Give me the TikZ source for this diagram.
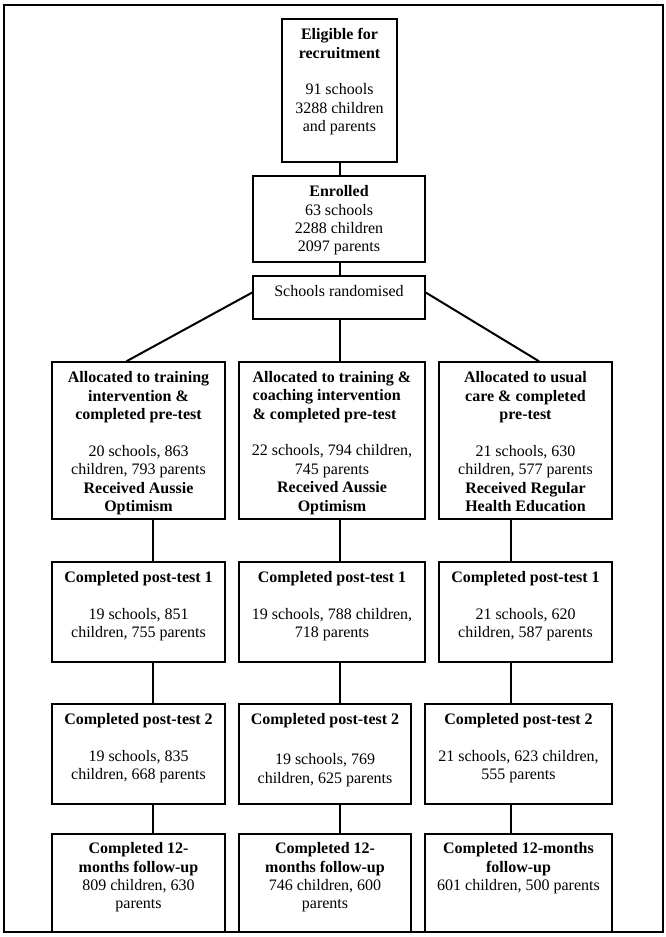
\documentclass[tikz,border=0pt]{standalone}
\usepackage{fontspec}
\setmainfont{Liberation Serif}
\usetikzlibrary{fit,calc}
\newlength\hdw
\begin{document}
\begin{tikzpicture}[x=0.75pt,y=-0.75pt,
  box/.style={draw, line width=1.1pt, inner sep=0pt},
  tbox/.style={box, line width=1.6pt},
  txt/.style={align=center, inner sep=0pt, anchor=north, font=\fontsize{12pt}{13.8pt}\selectfont},
  link/.style={line width=1.5pt},
  thinlink/.style={line width=0.8pt},
  outerframe/.style={draw, line width=1.8pt, inner sep=0pt}]
\useasboundingbox (0,0) rectangle (666,937);
\node[outerframe, fit={(4,5) (663,932)}] (outer) {};
% column positions
\coordinate (colL) at (153,0);
\coordinate (colM) at (340,0);
\coordinate (colR) at (511,0);
% boxes
\node[box, fit={(282,19) (397,162)}] (elig) {};
\node[box, fit={(253,176) (425,262)}] (enr) {};
\node[box, fit={(253,276) (425,319)}] (rand) {};
\node[box, fit={(52,362) (225,519)}] (A1) {};
\node[tbox, fit={(239,362) (425,519)}] (A2) {};
\node[box, fit={(439,362) (612,519)}] (A3) {};
\node[box, fit={(52,562) (225,662)}] (P1a) {};
\node[box, fit={(239,562) (425,662)}] (P1b) {};
\node[box, fit={(439,562) (612,662)}] (P1c) {};
\node[box, fit={(52,704) (225,804)}] (P2a) {};
\node[box, fit={(239,704) (411,804)}] (P2b) {};
\node[tbox, fit={(425,704) (612,804)}] (P2c) {};
\node[box, fit={(52,834) (225,932)}] (Fa) {};
\node[box, fit={(239,834) (411,932)}] (Fb) {};
\node[box, fit={(425,834) (612,932)}] (Fc) {};
% texts
\node[txt] (eligT) at ($(elig.north)+(0,10)$) {\textbf{Eligible for}\\\textbf{recruitment}\\[13.8pt]91 schools\\3288 children\\and parents};
\node[txt] (enrT) at ($(enr.north)+(0,10)$) {\textbf{Enrolled}\\63 schools\\2288 children\\2097 parents};
\node[txt] (randT) at ($(rand.north)+(0,10)$) {Schools randomised};
\node[txt] (A1T) at ($(A1.north)+(0,10)$) {\textbf{Allocated to training}\\\textbf{intervention \&}\\\textbf{completed pre-test}\\[13.8pt]20 schools, 863\\children, 793 parents\\\textbf{Received Aussie}\\\textbf{Optimism}};
\node[txt] (A2T) at ($(A2.north)+(0,10)$) {\settowidth{\hdw}{\textbf{Allocated to training \&}}\global\hdw=\hdw\makebox[\hdw][l]{\textbf{Allocated to training \&}}\\\makebox[\hdw][l]{\textbf{coaching intervention}}\\\makebox[\hdw][l]{\textbf{\& completed pre-test}}\\[13.8pt]22 schools, 794 children,\\745 parents\\\textbf{Received Aussie}\\\textbf{Optimism}};
\node[txt] (A3T) at ($(A3.north)+(0,10)$) {\textbf{Allocated to usual}\\\textbf{care \& completed}\\\textbf{pre-test}\\[13.8pt]21 schools, 630\\children, 577 parents\\\textbf{Received Regular}\\\textbf{Health Education}};
\node[txt] (P1aT) at ($(P1a.north)+(0,10)$) {\textbf{Completed post-test 1}\\[13.8pt]19 schools, 851\\children, 755 parents};
\node[txt] (P1bT) at ($(P1b.north)+(0,10)$) {\textbf{Completed post-test 1}\\[13.8pt]19 schools, 788 children,\\718 parents};
\node[txt] (P1cT) at ($(P1c.north)+(0,10)$) {\textbf{Completed post-test 1}\\[13.8pt]21 schools, 620\\children, 587 parents};
\node[txt] (P2aT) at ($(P2a.north)+(0,10)$) {\textbf{Completed post-test 2}\\[13.8pt]19 schools, 835\\children, 668 parents};
\node[txt, font=\fontsize{12pt}{14.8pt}\selectfont] (P2bT) at ($(P2b.north)+(0,10)$) {\textbf{Completed post-test 2}\\[14.8pt]19 schools, 769\\children, 625 parents};
\node[txt] (P2cT) at ($(P2c.north)+(0,10)$) {\textbf{Completed post-test 2}\\[13.8pt]21 schools, 623 children,\\555 parents};
\node[txt] (FaT) at ($(Fa.north)+(0,9)$) {\textbf{Completed 12-}\\\textbf{months follow-up}\\809 children, 630\\parents};
\node[txt] (FbT) at ($(Fb.north)+(0,9)$) {\textbf{Completed 12-}\\\textbf{months follow-up}\\746 children, 600\\parents};
\node[txt] (FcT) at ($(Fc.north)+(0,9)$) {\textbf{Completed 12-months}\\\textbf{follow-up}\\601 children, 500 parents};
% connectors
\draw[link] (elig.south -| colM) -- (enr.north -| colM);
\draw[link] (enr.south -| colM) -- (rand.north -| colM);
\draw[link] (rand.south -| colM) -- (A2.north -| colM);
\draw[link] ($(rand.west)+(0,-5)$) -- ($(A1.north)+(-12,0)$);
\draw[link] ($(rand.east)+(0,-5)$) -- ($(A3.north)+(13.5,0)$);
\draw[link] (A1.south -| colL) -- (P1a.north -| colL);
\draw[link] (A2.south -| colM) -- (P1b.north -| colM);
\draw[thinlink] (A3.south -| colR) -- (P1c.north -| colR);
\draw[link] (P1a.south -| colL) -- (P2a.north -| colL);
\draw[link] (P1b.south -| colM) -- (P2b.north -| colM);
\draw[link] (P1c.south -| colR) -- (P2c.north -| colR);
\draw[link] (P2a.south -| colL) -- (Fa.north -| colL);
\draw[link] (P2b.south -| colM) -- (Fb.north -| colM);
\draw[link] (P2c.south -| colR) -- (Fc.north -| colR);
\end{tikzpicture}
\end{document}
